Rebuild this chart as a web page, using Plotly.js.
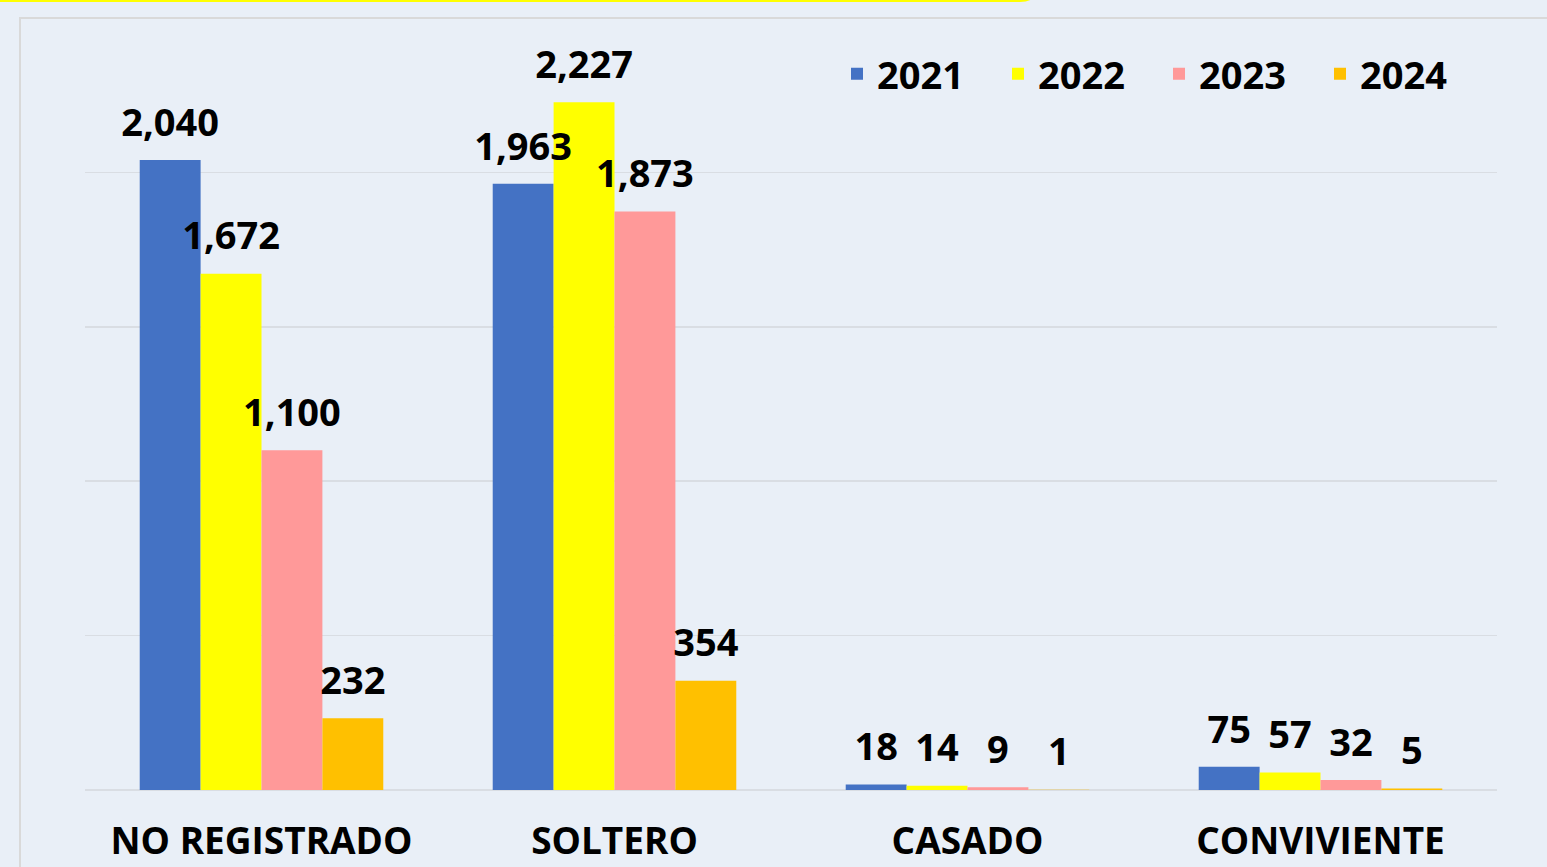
<!DOCTYPE html>
<html>
<head>
<meta charset="utf-8">
<script src="https://cdn.plot.ly/plotly-3.0.1.min.js"></script>
<style>html,body{margin:0;padding:0;background:#E9EFF7;}#chart{width:1547px;height:867px;}</style>
</head>
<body>
<div id="chart"></div>
<script>
const categories = ["NO REGISTRADO", "SOLTERO", "CASADO", "CONVIVIENTE"];
const seriesNames = ["2021", "2022", "2023", "2024"];
const values2021 = [2040, 1963, 18, 75];
const values2022 = [1672, 2227, 14, 57];
const values2023 = [1100, 1873, 9, 32];
const values2024 = [232, 354, 1, 5];
const colors = ["#4472C4", "#FFFF00", "#FF9999", "#FFC000"];

const seriesValues = [values2021, values2022, values2023, values2024];
const FONT = "Open Sans, Lato, sans-serif";

const barTraces = seriesValues.map((vals, i) => ({
  type: "bar",
  name: seriesNames[i],
  x: categories,
  y: vals,
  offsetgroup: seriesNames[i],
  marker: {color: colors[i], line: {width: 0}},
  hoverinfo: "x+y+name"
}));

// value labels drawn after all bars so they sit on top of neighbouring bars
const labelTraces = seriesValues.map((vals, i) => ({
  type: "scatter",
  mode: "markers+text",
  name: seriesNames[i] + " labels",
  showlegend: false,
  x: categories,
  y: vals,
  offsetgroup: seriesNames[i],
  marker: {size: 22, opacity: 0, color: colors[i]},
  text: vals.map(v => v.toLocaleString("en-US")),
  textposition: "top center",
  cliponaxis: false,
  textfont: {family: FONT, size: 38, color: "#000000", weight: "bold"},
  hoverinfo: "skip"
}));

// pixel -> paper helpers for decorative frame
const PL = 85, PW = 1412, PB = 790, PH = 772;
const px = v => (v - PL) / PW;
const py = v => (PB - v) / PH;

const layout = {
  width: 1547,
  height: 867,
  paper_bgcolor: "#E9EFF7",
  plot_bgcolor: "#E9EFF7",
  margin: {l: 85, r: 50, t: 18, b: 77, pad: 0, autoexpand: false},
  barmode: "group",
  bargap: 0.31,
  bargroupgap: 0,
  scattermode: "group",
  scattergap: 0.31,
  showlegend: true,
  legend: {
    orientation: "h",
    x: px(837), xanchor: "left",
    y: py(74), yanchor: "middle",
    bgcolor: "rgba(0,0,0,0)",
    font: {family: FONT, size: 38, color: "#000000", weight: "bold"},
    entrywidth: 116, entrywidthmode: "pixels",
    traceorder: "normal"
  },
  xaxis: {
    type: "category",
    showgrid: false,
    showline: false,
    zeroline: false,
    ticks: "",
    tickfont: {family: FONT, size: 37, color: "#000000", weight: "bold"},
    ticklabelstandoff: 26
  },
  yaxis: {
    range: [0, 2500],
    tickvals: [0, 500, 1000, 1500, 2000],
    showticklabels: false,
    showgrid: true,
    gridcolor: "#D9DDE3",
    gridwidth: 1.5,
    zeroline: true,
    zerolinecolor: "#D9DDE3",
    zerolinewidth: 2,
    showline: false,
    ticks: ""
  },
  shapes: [
    {type: "rect", xref: "paper", yref: "paper", layer: "below",
     x0: px(20), x1: px(1600), y0: py(920), y1: py(18),
     line: {color: "#D9D9D9", width: 2}, fillcolor: "rgba(0,0,0,0)"},
    {type: "path", xref: "paper", yref: "paper", layer: "above",
     path: `M ${px(-20)} ${py(-40)} L ${px(1020)} ${py(-40)} Q ${px(1037)} ${py(-40)} ${px(1037)} ${py(-20)} L ${px(1037)} ${py(-16)} Q ${px(1037)} ${py(0.5)} ${px(1020)} ${py(0.5)} L ${px(-20)} ${py(0.5)} Z`,
     line: {color: "#FFFF00", width: 3}, fillcolor: "rgba(0,0,0,0)"}
  ],
  font: {family: FONT}
};

Plotly.newPlot("chart", barTraces.concat(labelTraces), layout, {displayModeBar: false, staticPlot: true});
</script>
</body>
</html>
